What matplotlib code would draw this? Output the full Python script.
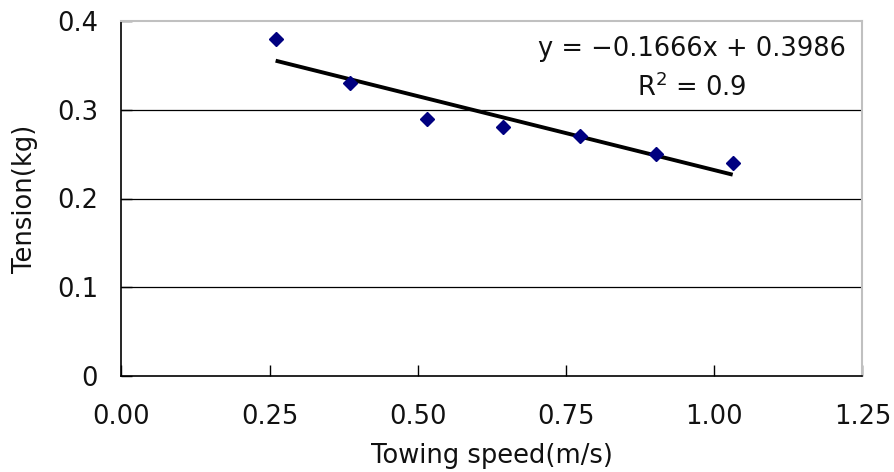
import matplotlib
matplotlib.use("Agg")
import matplotlib.pyplot as plt
import numpy as np

speed = [0.26, 0.386, 0.516, 0.644, 0.774, 0.902, 1.031]
tension = [0.38, 0.33, 0.29, 0.28, 0.27, 0.25, 0.24]
slope, intercept = -0.1666, 0.3986
r2 = 0.9
xticks = [0.00, 0.25, 0.50, 0.75, 1.00, 1.25]
yticks = [0, 0.1, 0.2, 0.3, 0.4]
ytick_labels = ["0", "0.1", "0.2", "0.3", "0.4"]

FS = 18.5
plt.rcParams['font.family'] = ['DejaVu Sans']
fig = plt.figure(figsize=(8.95, 4.72), dpi=100)
ax = fig.add_axes([121.5/895, 96/472, 741/895, 355/472])

ax.set_xlim(0, 1.25)
ax.set_ylim(0, 0.4)
for yv in yticks[1:-1]:
    ax.axhline(yv, color='black', lw=0.9, zorder=1)

ax.plot(speed, tension, linestyle='none', marker='D', ms=7.5, color='#000080', zorder=3)
xs = np.array([min(speed), max(speed)])
ax.plot(xs, slope*xs + intercept, color='black', lw=2.8, zorder=2, solid_capstyle='butt')

ax.set_xticks(xticks)
ax.set_xticklabels([f"{v:.2f}" for v in xticks])
ax.set_yticks(yticks)
ax.set_yticklabels(ytick_labels)
ax.tick_params(axis='both', direction='in', length=8, width=1, labelsize=FS,
               color='black', labelcolor='#111111')
ax.tick_params(axis='x', pad=20)
ax.tick_params(axis='y', pad=17)

for s in ['left', 'bottom']:
    ax.spines[s].set_color('black')
    ax.spines[s].set_linewidth(1.2)
for s in ['top', 'right']:
    ax.spines[s].set_color('#c0c0c0')
    ax.spines[s].set_linewidth(1.5)

ax.set_xlabel("Towing speed(m/s)", fontsize=FS, color='#111111')
ax.set_ylabel("Tension(kg)", fontsize=FS, color='#111111')
ax.xaxis.set_label_coords(0.5, -0.19)
ax.yaxis.set_label_coords(-0.113, 0.5)

eq = f"y = \u2212{abs(slope):.4f}x + {intercept:.4f}"
ax.text(0.77, 0.901, eq, fontsize=FS, ha='center', va='baseline', transform=ax.transAxes, color='#111111')
ax.text(0.77, 0.789, f"R$^2$ = {r2}", fontsize=FS, ha='center', va='baseline', transform=ax.transAxes, color='#111111')
fig.savefig("out.png", dpi=100)
